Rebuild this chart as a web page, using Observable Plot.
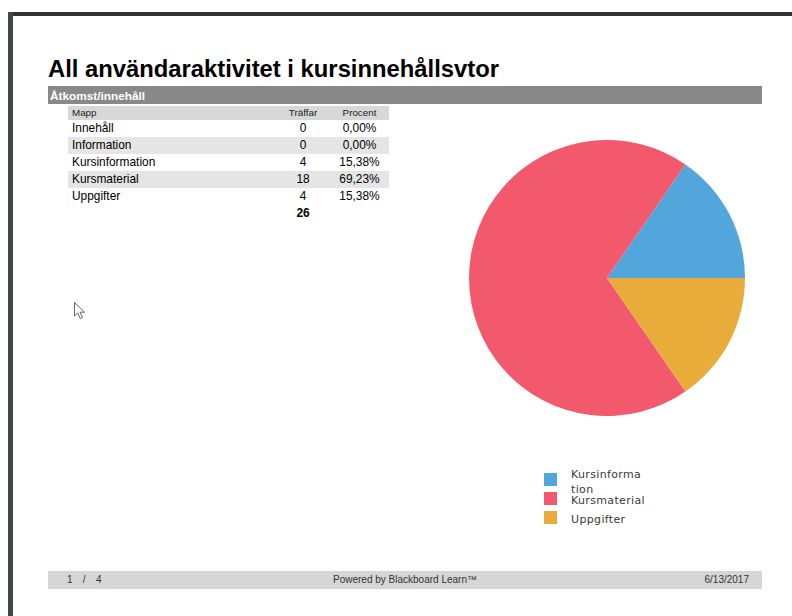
<!DOCTYPE html>
<html><head><meta charset="utf-8">
<script src="https://cdn.jsdelivr.net/npm/d3@7"></script>
<script src="https://cdn.jsdelivr.net/npm/@observablehq/plot@0.6"></script>
<style>
body{margin:0;background:#fff;}
#page{position:relative;width:792px;height:616px;overflow:hidden;background:#fff;font-family:"Liberation Sans",Arial,sans-serif;color:#000;}
.abs{position:absolute;white-space:nowrap;}
#title{left:48px;top:57px;font-size:23.8px;line-height:24px;font-weight:bold;}
#bar{left:48px;top:86px;width:714px;height:18px;background:#888888;}
#barText{left:50px;top:90px;font-size:11.8px;line-height:12px;font-weight:bold;color:#fff;}
.row{position:absolute;left:68px;width:321px;}
.cell{position:absolute;top:0;white-space:nowrap;}
.c1{left:4px;}
.c2{left:200px;width:70px;text-align:center;}
.c3{left:270px;width:43px;text-align:center;}
#footer{left:48px;top:571px;width:714px;height:18px;background:#d6d6d6;}
.ft{font-size:10px;line-height:18px;color:#333;top:571px;}
#legend .it{position:absolute;left:0;}
#legend .sw{position:absolute;left:0;top:0;width:13px;height:13px;}
#legend .lb{position:absolute;left:27px;font-family:"DejaVu Sans",sans-serif;font-size:11px;line-height:14.5px;color:#3a3a3a;letter-spacing:0.35px;white-space:nowrap;}
</style></head><body><div id="page">
<div class="abs" style="left:8px;top:12px;width:784px;height:4px;background:#303234;"></div>
<div class="abs" style="left:8px;top:12px;width:4.5px;height:604px;background:#43474a;"></div>
<div id="title" class="abs">All användaraktivitet i kursinnehållsvtor</div>
<div id="bar" class="abs"></div>
<div id="barText" class="abs">Åtkomst/innehåll</div>
<div id="table"></div>
<div id="pie" class="abs" style="left:469px;top:140px;"></div>
<div id="legend" class="abs" style="left:544px;top:473px;"></div>
<div id="footer" class="abs"></div>
<div class="abs ft" style="left:67px;word-spacing:7.5px;">1 / 4</div>
<div class="abs ft" style="left:0;width:810px;text-align:center;">Powered by Blackboard Learn™</div>
<div class="abs ft" style="left:600px;width:149px;text-align:right;">6/13/2017</div>
<svg class="abs" style="left:74px;top:302px;" width="14" height="20"><path d="M0.5,0.5 L0.5,14 L3.7,11 L6.3,16.5 L8.5,15.5 L6,10.2 L10.5,10.2 Z" fill="#fff" stroke="#666" stroke-width="1"/></svg>
</div>
<script>
// ---- data ----
const headers = ["Mapp", "Träffar", "Procent"];
const folders = ["Innehåll", "Information", "Kursinformation", "Kursmaterial", "Uppgifter"];
const hits = [0, 0, 4, 18, 4];
const percentLabels = ["0,00%", "0,00%", "15,38%", "69,23%", "15,38%"];
const pieCategories = ["Kursinformation", "Kursmaterial", "Uppgifter"];
const pieValues = [4, 18, 4];
const pieColors = ["#52a6dc", "#f3596c", "#e8ac3a"];

// ---- table ----
const table = document.getElementById("table");
function addRow(top, h, bg, cells, fs, bold, color) {
  const r = document.createElement("div");
  r.className = "row";
  r.style.top = top + "px";
  r.style.height = h + "px";
  r.style.background = bg;
  cells.forEach((t, i) => {
    const c = document.createElement("div");
    c.className = "cell c" + (i + 1);
    c.textContent = t;
    c.style.fontSize = fs + "px";
    c.style.lineHeight = h + "px";
    if (bold) c.style.fontWeight = "bold";
    c.style.color = color;
    r.appendChild(c);
  });
  table.appendChild(r);
}
addRow(106, 14, "#d8d8d8", headers, 9.8, false, "#222");
const rowH = 17;
folders.forEach((f, i) => {
  addRow(120 + i * rowH, rowH, i % 2 === 1 ? "#e5e5e5" : "transparent",
    [f, String(hits[i]), percentLabels[i]], 11.9, false, "#000");
});
addRow(120 + folders.length * rowH, rowH, "transparent", ["", String(d3.sum(hits)), ""], 11.9, true, "#000");

// ---- pie ----
const pieData = pieCategories.map((c, i) => ({category: c, value: pieValues[i]}));
const size = 276;
function pieMark(index, scales, values, dimensions, context) {
  const xs = scales.x, ys = scales.y;
  const color = scales.color || d3.scaleOrdinal(pieCategories, pieColors);
  const cx = xs(0), cy = ys(0);
  const r = xs(1) - xs(0);
  const arcs = d3.pie().sort(null).value(d => d.value)
    .startAngle(Math.PI / 2).endAngle(Math.PI / 2 - 2 * Math.PI)(pieData);
  const arc = d3.arc().innerRadius(0).outerRadius(r);
  const g = d3.create("svg:g").attr("transform", `translate(${cx},${cy})`);
  g.selectAll("path").data(arcs).join("path")
    .attr("d", arc)
    .attr("fill", d => color(d.data.category));
  return g.node();
}
const chart = Plot.plot({
  width: size,
  height: size,
  margin: 0,
  x: {domain: [-1, 1], axis: null},
  y: {domain: [-1, 1], axis: null},
  color: {domain: pieCategories, range: pieColors},
  marks: [pieMark]
});
document.getElementById("pie").appendChild(chart);

// ---- legend ----
const legend = document.getElementById("legend");
pieCategories.forEach((c, i) => {
  const it = document.createElement("div");
  it.className = "it";
  it.style.top = (i * 19) + "px";
  const sw = document.createElement("div");
  sw.className = "sw";
  sw.style.background = pieColors[i];
  const lb = document.createElement("div");
  lb.className = "lb";
  const lines = c.length > 12 ? c.match(/.{1,11}/g) : [c];
  lb.innerHTML = lines.join("<br>");
  lb.style.top = (6.5 - lines.length * 7.25 + 3) + "px";
  it.appendChild(sw);
  it.appendChild(lb);
  legend.appendChild(it);
});
</script>
</body></html>
